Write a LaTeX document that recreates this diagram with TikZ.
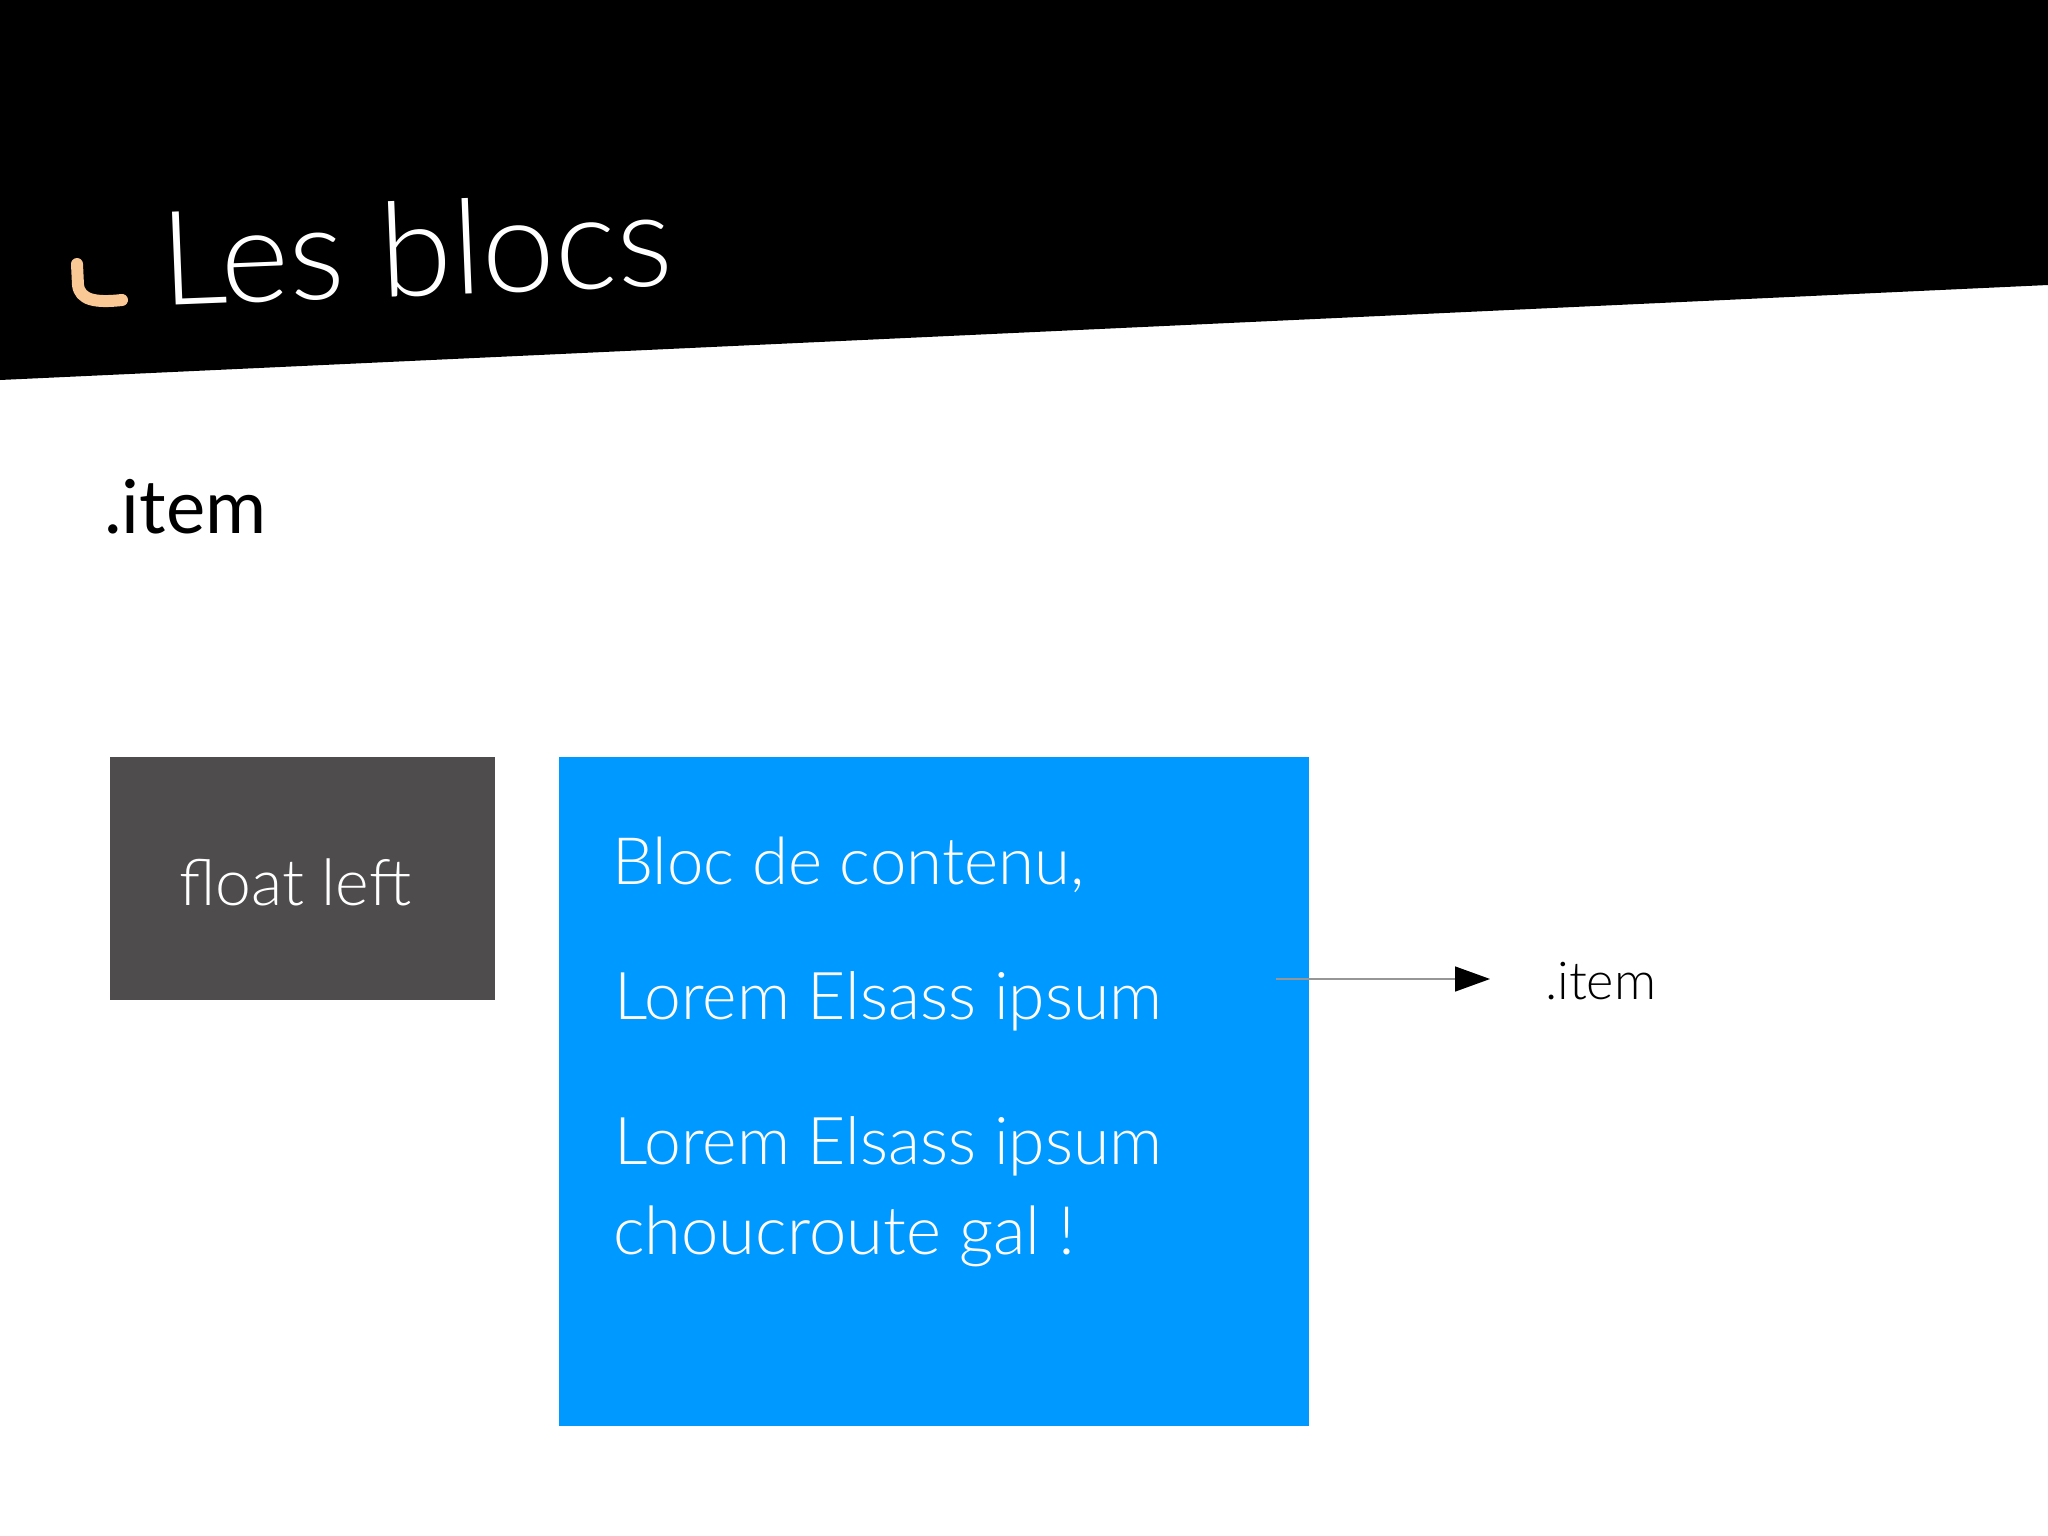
\documentclass[tikz,border=0pt]{standalone}
\usepackage{fontspec}
\setmainfont{Lato}
\newfontfamily\lightfont{Lato Light}
\usetikzlibrary{arrows.meta}
\definecolor{boxgray}{RGB}{79,76,77}
\definecolor{boxblue}{RGB}{0,153,255}
\definecolor{hookorange}{RGB}{250,200,148}
\definecolor{arrowgray}{RGB}{150,150,150}
\tikzset{
  txt/.style={anchor=base west, inner sep=0pt},
  bluetxt/.style={txt, text=white, font=\lightfont},
  panel/.style={anchor=north west, inner sep=0pt, draw=none}
}
\begin{document}
\begin{tikzpicture}[x=1pt,y=-1pt]
\useasboundingbox (0,0) rectangle (2048,1536);
\fill[white] (0,0) rectangle (2048,1536);
% header band
\fill[black] (0,0) -- (2048,0) -- (2048,285) -- (0,380) -- cycle;
% hook
\draw[hookorange, line width=12pt, line cap=round] (77,264) -- (78,285) .. controls (80,300) and (95,303) .. (122,300);
% title
\node[txt, rotate=2.3, text=white] (title) at (162,306) {\resizebox{512pt}{!}{\lightfont Les blocs}};
% heading
\node[txt] (heading) at (104,533) {\resizebox{162pt}{!}{.item}};
% gray box
\node[panel, fill=boxgray, minimum width=385pt, minimum height=243pt] (floatbox) at (110,757) {};
\node[bluetxt] (floatlabel) at (179,905) {\resizebox{232pt}{!}{float left}};
% blue box
\node[panel, fill=boxblue, minimum width=750pt, minimum height=669pt] (content) at (559,757) {};
\node[bluetxt] (l1) at (612,884) {\resizebox{472pt}{!}{Bloc de contenu,}};
\node[bluetxt] (l2) at (614,1019) {\resizebox{548pt}{!}{Lorem Elsass ipsum}};
\node[bluetxt] (l3) at (614,1164) {\resizebox{548pt}{!}{Lorem Elsass ipsum}};
\node[bluetxt] (l4) at (613,1254) {\resizebox{462pt}{!}{choucroute gal !}};
% arrow
\coordinate (astart) at (1276,979);
\coordinate (aend) at (1490,979);
\draw[arrowgray, line width=1.5pt, -{Triangle[length=35pt,width=25pt,black]}] (astart) -- (aend);
\node[txt, font=\lightfont] (itemlabel) at (1545,999) {\resizebox{111pt}{!}{.item}};
\end{tikzpicture}
\end{document}
